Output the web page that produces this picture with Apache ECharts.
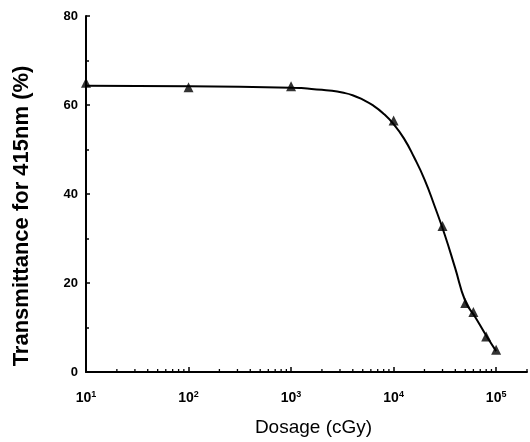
<!DOCTYPE html>
<html><head><meta charset="utf-8">
<script src="https://cdn.jsdelivr.net/npm/echarts@6/dist/echarts.min.js"></script>
<style>html,body{margin:0;padding:0;background:#fff}#c{width:530px;height:442px}</style>
</head><body><div id="c"></div>
<script>
// measured points (triangles)
var dosePts = [10, 100, 1000, 10000, 30000, 50000, 60000, 80000, 100000];
var transPts = [65, 64, 64.2, 56.5, 32.8, 15.5, 13.5, 8, 5];
// fitted curve
var curveX = [10, 100, 1000, 1260, 1580, 2000, 2510, 3160, 3980, 5010, 6310, 7940, 10000, 12600, 15800, 20000, 25100, 31600, 39800, 50100, 63100, 79400, 100000];
var curveY = [64.3, 64.2, 63.9, 63.8, 63.6, 63.4, 63.2, 62.8, 62.2, 61.2, 59.9, 58.1, 55.7, 52.5, 48.3, 43.3, 37.3, 30.8, 23.4, 15.9, 12.2, 8.3, 4.7];
// minor tick positions on the log axis
var minorMult = [2, 3, 4, 5, 6, 7, 8, 9];
var decades = [10, 100, 1000, 10000, 100000];
var xMin = 10, xMax = 200000;
var yTicks = [0, 20, 40, 60, 80];

var minorX = [];
decades.forEach(function (d) { minorMult.forEach(function (k) { if (d * k <= xMax) minorX.push(d * k); }); });

var chart = echarts.init(document.getElementById('c'));
var font = 'Liberation Sans, Arial, sans-serif';
chart.setOption({
  animation: false,
  grid: { left: 86, right: 3, top: 16, bottom: 70 },
  xAxis: {
    type: 'log', logBase: 10, min: xMin, max: xMax,
    name: 'Dosage (cGy)', nameLocation: 'middle', nameGap: 46,
    nameTextStyle: { fontFamily: font, fontSize: 19, color: '#000', padding: [0, 0, 0, 14] },
    axisLine: { lineStyle: { color: '#000', width: 2 } },
    axisTick: { inside: true, length: 5, lineStyle: { color: '#000', width: 1.5 } },
    splitLine: { show: false },
    axisLabel: {
      margin: 18, color: '#000', fontFamily: font, fontSize: 14, fontWeight: 'bold',
      showMaxLabel: false,
      formatter: function (v) {
        var e = Math.round(Math.log10(v));
        if (Math.abs(Math.pow(10, e) - v) > 1e-6 * v) return '';
        return '10{s|' + e + '}';
      },
      rich: { s: { fontSize: 9, fontWeight: 'bold', fontFamily: font, color: '#000', verticalAlign: 'top', padding: [0, 0, 8, 0] } }
    }
  },
  yAxis: {
    type: 'value', min: 0, max: 80, interval: 20,
    name: 'Transmittance for 415nm (%)', nameLocation: 'middle', nameGap: 53,
    nameTextStyle: { fontFamily: font, fontSize: 22, fontWeight: 'bold', color: '#000', padding: [0, 44, 0, 0] },
    axisLine: { show: true, lineStyle: { color: '#000', width: 2 } },
    axisTick: { show: true, inside: true, length: 4, lineStyle: { color: '#000', width: 1.5 } },
    minorTick: { show: true, splitNumber: 2, length: 3, lineStyle: { color: '#000', width: 1.5 } },
    splitLine: { show: false },
    axisLabel: { margin: 8, color: '#000', fontFamily: font, fontSize: 13, fontWeight: 'bold' }
  },
  series: [
    {
      type: 'custom', silent: true, clip: false,
      data: minorX.map(function (x) { return [x]; }),
      encode: { x: 0 },
      renderItem: function (params, api) {
        var p = api.coord([api.value(0), 0]);
        return { type: 'line', shape: { x1: p[0], y1: p[1], x2: p[0], y2: p[1] - 3 }, style: { stroke: '#000', lineWidth: 1.3 } };
      }
    },
    {
      type: 'line', smooth: 0.5, showSymbol: false,
      data: curveX.map(function (x, i) { return [x, curveY[i]]; }),
      lineStyle: { color: '#000', width: 2 }
    },
    {
      type: 'scatter', symbol: 'triangle', symbolSize: 10,
      data: dosePts.map(function (x, i) { return [x, transPts[i]]; }),
      itemStyle: { color: '#000' }
    }
  ]
});
</script></body></html>
